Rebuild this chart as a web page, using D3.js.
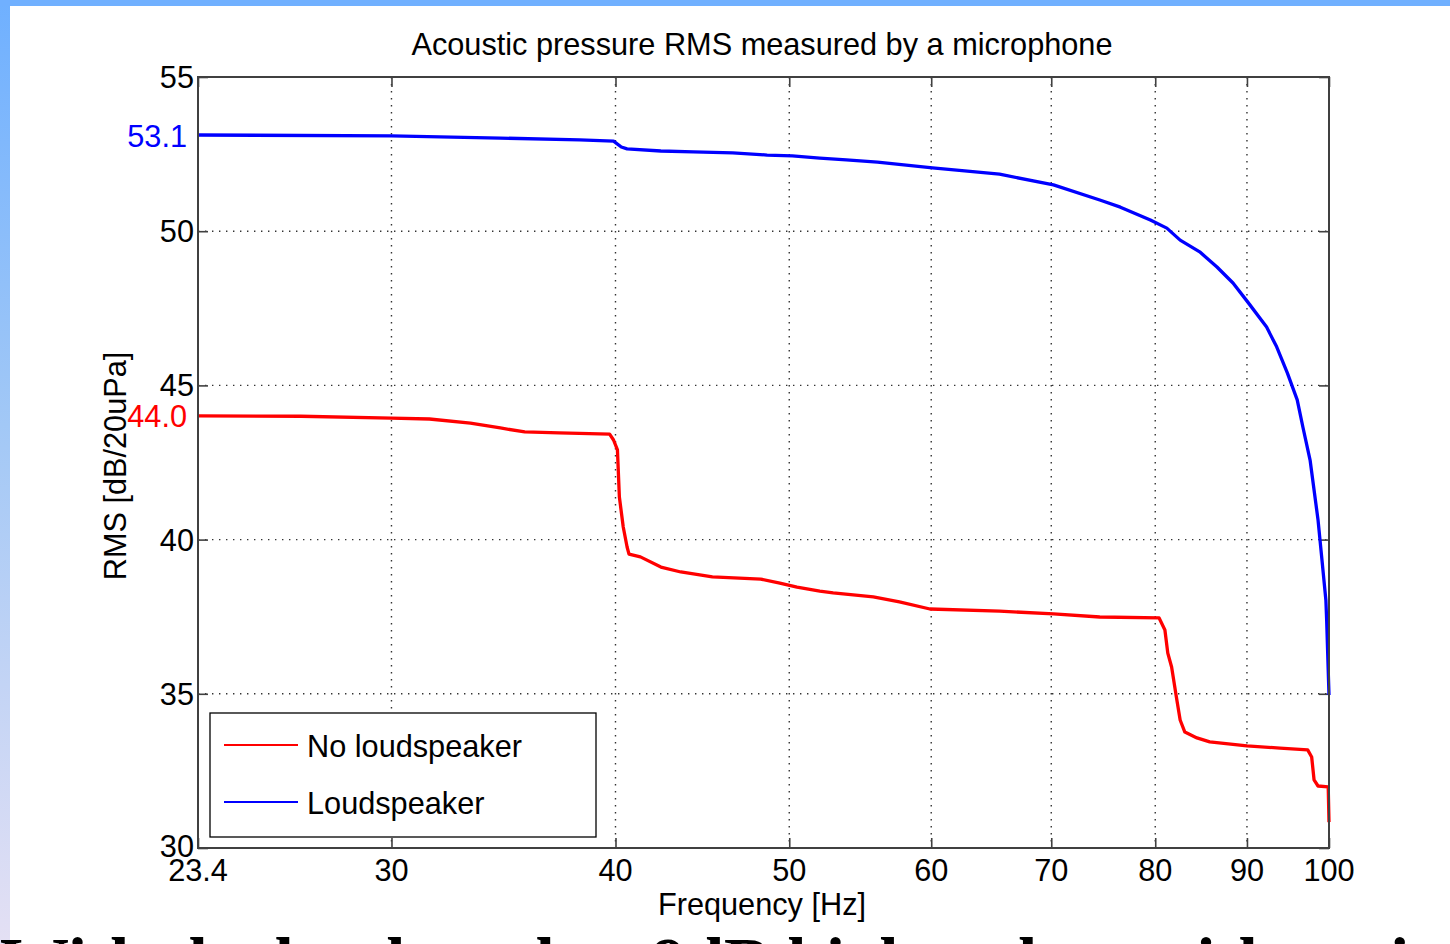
<!DOCTYPE html>
<html><head><meta charset="utf-8">
<script src="https://cdn.jsdelivr.net/npm/d3@7"></script>
<style>html,body{margin:0;padding:0;background:#fff;overflow:hidden}svg{display:block}</style>
</head><body>
<script>
// ---- data ----
const title = "Acoustic pressure RMS measured by a microphone";
const xLabel = "Frequency [Hz]";
const yLabel = "RMS [dB/20uPa]";
const xTicks = [23.4, 30, 40, 50, 60, 70, 80, 90, 100];
const yTicks = [30, 35, 40, 45, 50, 55];
const seriesNames = ["No loudspeaker", "Loudspeaker"];
const noSpkFreq = [23.4,26.7,30.0,31.5,33.2,34.5,35.6,37.2,39.7,39.9,40.1,40.2,40.4,40.6,40.7,41.3,42.4,43.5,45.3,48.2,49.4,50.5,52.0,52.9,55.7,57.6,59.9,65.5,70.2,74.5,80.4,81.0,81.3,81.7,82.2,82.6,83.1,84.4,85.8,90.0,93.9,97.3,97.8,98.1,98.6,99.9,100];
const noSpkDb   = [44.01,44.0,43.94,43.91,43.78,43.62,43.49,43.46,43.42,43.23,42.91,41.38,40.41,39.76,39.53,39.44,39.11,38.95,38.79,38.72,38.59,38.46,38.33,38.27,38.14,37.98,37.75,37.68,37.59,37.49,37.46,37.07,36.32,35.87,34.90,34.15,33.76,33.57,33.44,33.31,33.24,33.18,32.95,32.21,32.01,31.98,30.84];
const spkFreq = [23.4,30.0,34.5,38.2,39.9,40.3,40.6,42.4,44.2,46.5,48.6,50.2,52.0,53.8,56.0,60.1,65.5,70.2,74.5,76.5,79.5,81.2,82.6,84.7,86.6,88.4,90.1,92.3,93.5,94.8,96.0,96.7,97.6,98.6,99.1,99.6,99.7,99.85,100];
const spkDb   = [53.12,53.09,53.02,52.96,52.92,52.73,52.67,52.60,52.57,52.54,52.47,52.44,52.37,52.31,52.24,52.05,51.85,51.50,51.01,50.78,50.36,50.10,49.71,49.33,48.84,48.32,47.70,46.89,46.25,45.40,44.53,43.65,42.58,40.64,39.34,38.04,37.39,36.16,34.96];
const startLabels = ["44.0", "53.1"];
const startValues = [44.0, 53.1];
const colors = ["#ff0000", "#0000ff"];
const caption = "With the loudspeaker 9dB higher than without it";

// ---- layout ----
const W = 1450, H = 944;
const m = {l:198, r:1329, t:77, b:848};
const fs = 30.7;
const svg = d3.select("body").append("svg").attr("width", W).attr("height", H);
const defs = svg.append("defs");
const lg = defs.append("linearGradient").attr("id","side").attr("x1",0).attr("y1",0).attr("x2",0).attr("y2",1);
lg.append("stop").attr("offset","0%").attr("stop-color","#6fb0ff");
lg.append("stop").attr("offset","45%").attr("stop-color","#a2c8f6");
lg.append("stop").attr("offset","100%").attr("stop-color","#e4e0f4");
svg.append("rect").attr("x",0).attr("y",0).attr("width",W).attr("height",H).attr("fill","#fff");
svg.append("rect").attr("x",0).attr("y",0).attr("width",10).attr("height",H).attr("fill","url(#side)");
svg.append("rect").attr("x",0).attr("y",0).attr("width",W).attr("height",6).attr("fill","#70b0ff");

const x = d3.scaleLog().domain([23.4, 100]).range([m.l, m.r]);
const y = d3.scaleLinear().domain([30, 55]).range([m.b, m.t]);
const font = "'Liberation Sans', Arial, sans-serif";
const axCol = "#404040";

// grid
const grid = svg.append("g").attr("stroke","#333").attr("stroke-width",1.4).attr("stroke-dasharray","1.4,5.6");
grid.selectAll(".gx").data(xTicks.slice(1,-1)).join("line")
  .attr("x1", d=>x(d)).attr("x2", d=>x(d)).attr("y1", m.t).attr("y2", m.b);
grid.selectAll(".gy").data(yTicks.slice(1,-1)).join("line")
  .attr("y1", d=>y(d)).attr("y2", d=>y(d)).attr("x1", m.l).attr("x2", m.r);

// axes with inward ticks (D3 axes)
const tickLen = 10;
const fmtX = d => d===23.4 ? "23.4" : String(d);
const xb = svg.append("g").attr("transform",`translate(0,${m.b})`)
  .call(d3.axisTop(x).tickValues(xTicks).tickSize(tickLen).tickFormat(""));
const xt = svg.append("g").attr("transform",`translate(0,${m.t})`)
  .call(d3.axisBottom(x).tickValues(xTicks).tickSize(tickLen).tickFormat(""));
const yl = svg.append("g").attr("transform",`translate(${m.l},0)`)
  .call(d3.axisRight(y).tickValues(yTicks).tickSize(tickLen).tickFormat(""));
const yr = svg.append("g").attr("transform",`translate(${m.r},0)`)
  .call(d3.axisLeft(y).tickValues(yTicks).tickSize(tickLen).tickFormat(""));
[xb,xt,yl,yr].forEach(g=>{
  g.select(".domain").remove();
  g.selectAll("line").attr("stroke",axCol).attr("stroke-width",1.6);
});

// lines
const line = d3.line().x(d=>x(d[0])).y(d=>y(d[1]));
const series = [d3.zip(noSpkFreq, noSpkDb), d3.zip(spkFreq, spkDb)];
svg.append("g").selectAll("path").data(series).join("path")
  .attr("d", line).attr("fill","none").attr("stroke",(d,i)=>colors[i])
  .attr("stroke-width",3.3).attr("stroke-linejoin","round");

// frame
svg.append("rect").attr("x",m.l).attr("y",m.t).attr("width",m.r-m.l).attr("height",m.b-m.t)
  .attr("fill","none").attr("stroke",axCol).attr("stroke-width",2);

// tick labels
const tl = svg.append("g").attr("font-family",font).attr("font-size",fs).attr("fill","#000");
tl.selectAll(".xl").data(xTicks).join("text")
  .attr("x", d=>x(d)).attr("y", m.b+33).attr("text-anchor","middle").text(fmtX);
tl.selectAll(".yl").data(yTicks).join("text")
  .attr("x", m.l-4).attr("y", d=>y(d) + (d===30 ? 9 : 11)).attr("text-anchor","end").text(d=>d);
// start-value labels
tl.selectAll(".sl").data(startValues).join("text")
  .attr("x", m.l-11).attr("y", d=>y(d)+11).attr("text-anchor","end")
  .attr("fill",(d,i)=>colors[i]).text((d,i)=>startLabels[i]);

// title & axis labels
svg.append("text").attr("x",762).attr("y",55).attr("text-anchor","middle")
  .attr("font-family",font).attr("font-size",fs).text(title);
svg.append("text").attr("x",762).attr("y",915).attr("text-anchor","middle")
  .attr("font-family",font).attr("font-size",fs).text(xLabel);
svg.append("text").attr("transform",`translate(126,466) rotate(-90)`).attr("text-anchor","middle")
  .attr("font-family",font).attr("font-size",fs).text(yLabel);

// legend
const leg = svg.append("g");
leg.append("rect").attr("x",210).attr("y",713).attr("width",386).attr("height",124)
  .attr("fill","#fff").attr("stroke","#000").attr("stroke-width",1.3);
seriesNames.forEach((n,i)=>{
  const yy = 745 + i*57;
  leg.append("line").attr("x1",224).attr("x2",298).attr("y1",yy).attr("y2",yy)
    .attr("stroke",colors[i]).attr("stroke-width",2.2);
  leg.append("text").attr("x",307).attr("y",yy+12).attr("font-family",font).attr("font-size",fs).text(n);
});

// caption at bottom (clipped by the page edge, as in the reference)
svg.append("text").attr("x",0).attr("y",986).attr("font-family","'Liberation Serif','Times New Roman',serif")
  .attr("font-weight","bold").attr("font-size",69).attr("fill","#000").text(caption);
</script>
</body></html>
